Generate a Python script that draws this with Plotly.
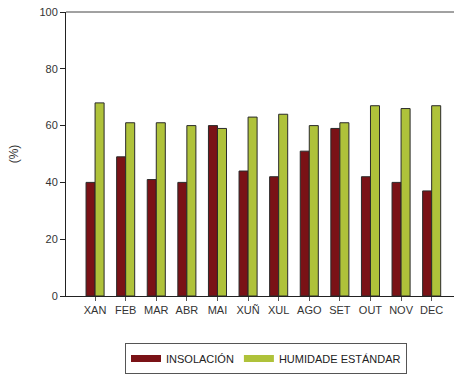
import plotly.graph_objects as go

months = ["XAN", "FEB", "MAR", "ABR", "MAI", "XUÑ", "XUL", "AGO", "SET", "OUT", "NOV", "DEC"]
insolacion = [40, 49, 41, 40, 60, 44, 42, 51, 59, 42, 40, 37]
humidade = [68, 61, 61, 60, 59, 63, 64, 60, 61, 67, 66, 67]
series_names = ["INSOLACIÓN", "HUMIDADE ESTÁNDAR"]
y_ticks = [0, 20, 40, 60, 80, 100]

RED = "#7a1216"
GREEN = "#afc23a"

W = 454
L = 66
PX_PER_CAT = 30.6
X0 = -0.95
X1 = X0 + (W - L) / PX_PER_CAT

fig = go.Figure()
fig.add_bar(x=months, y=insolacion, name=series_names[0], marker=dict(color=RED, line=dict(color="#2a2a2a", width=1)), showlegend=False)
fig.add_bar(x=months, y=humidade, name=series_names[1], marker=dict(color=GREEN, line=dict(color="#2a2a2a", width=1)), showlegend=False)
# legend swatches as wide rectangles
fig.add_scatter(x=[None], y=[None], mode="lines", name=series_names[0], line=dict(color=RED, width=7))
fig.add_scatter(x=[None], y=[None], mode="lines", name=series_names[1], line=dict(color=GREEN, width=7))

fig.update_layout(
    width=W, height=374,
    margin=dict(l=L, r=0, t=12, b=77),
    paper_bgcolor="white", plot_bgcolor="white",
    barmode="group", bargap=0.41, bargroupgap=0,
    font=dict(family="Liberation Sans, Arial, sans-serif", size=11, color="#333333"),
    showlegend=True,
    legend=dict(orientation="h", x=(266 - L) / (W - L), xanchor="center", y=-0.221, yanchor="middle",
                bordercolor="#555555", borderwidth=1, font=dict(size=11, color="#222222"),
                itemwidth=30, traceorder="normal"),
    shapes=[dict(type="line", xref="paper", yref="paper", x0=0, x1=1, y0=1, y1=1,
                 line=dict(color="#444444", width=1))],
)
fig.update_xaxes(type="category", range=[X0, X1], showline=True, linecolor="#222222", linewidth=1,
                 mirror=False, ticks="outside", ticklen=4, tickcolor="#555555", showgrid=False,
                 tickfont=dict(size=11, color="#333333"))
fig.update_yaxes(range=[0, 100], tickvals=y_ticks, showline=True, linecolor="#222222", linewidth=1,
                 ticks="outside", ticklen=5, tickcolor="#222222", showgrid=False, zeroline=False,
                 title=dict(text="(%)", standoff=18, font=dict(size=12, color="#333333")),
                 tickfont=dict(size=11, color="#333333"))

fig.write_html("out.html", config={"displayModeBar": False, "staticPlot": True},
               post_script="document.body.style.margin='0';document.body.style.overflow='hidden';")
